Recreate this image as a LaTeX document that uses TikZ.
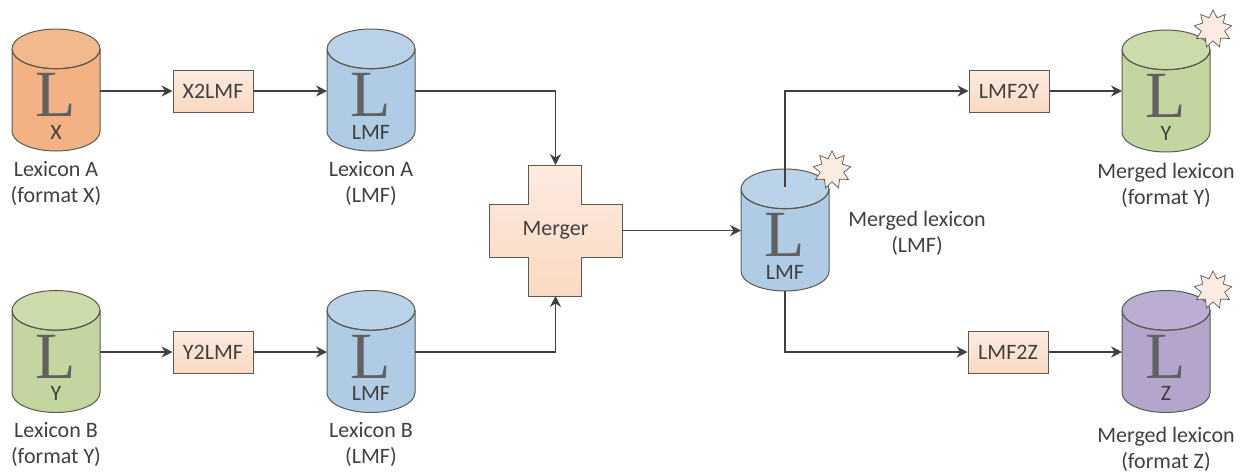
\documentclass[tikz,border=0pt]{standalone}
\usepackage{fontspec}
\setmainfont{Carlito}
\newfontfamily\bigserif{Liberation Serif}
\usetikzlibrary{shapes.geometric,arrows.meta}

\definecolor{lineGrey}{HTML}{404040}
\definecolor{textGrey}{HTML}{404040}
\definecolor{boxEdge}{HTML}{5A5A50}
\definecolor{boxTop}{HTML}{FCEBE0}
\definecolor{boxBot}{HTML}{FAD9C2}
\definecolor{orangeBody}{HTML}{F4B183}
\definecolor{orangeEnd}{HTML}{F2B98F}
\definecolor{blueBody}{HTML}{B0CCE4}
\definecolor{blueEnd}{HTML}{BAD3E8}
\definecolor{greenBody}{HTML}{C4D6A0}
\definecolor{greenEnd}{HTML}{CBDBAA}
\definecolor{purpleBody}{HTML}{B4A5CC}
\definecolor{purpleEnd}{HTML}{BCAED3}

\tikzset{
    lexdb/.style n args={2}{shape=cylinder,shape border rotate=90,shape aspect=1.1,draw=boxEdge,line width=1pt,
        minimum width=88pt,minimum height=122pt,inner sep=18pt,outer sep=0pt,anchor=shape center,
        cylinder uses custom fill,cylinder body fill=#1,cylinder end fill=#2},
    rim/.style={draw=boxEdge,line width=1pt},
    bigl/.style={font=\bigserif\fontsize{66}{66}\selectfont,text=black!62,inner sep=0pt},
    txt/.style={font=\fontsize{22}{26}\selectfont,text=textGrey,align=center,inner sep=0pt},
    conv/.style={draw=boxEdge,line width=1pt,top color=boxTop,bottom color=boxBot,
        minimum width=80pt,minimum height=42pt,inner sep=0pt,font=\fontsize{22}{24}\selectfont,text=textGrey},
    burst/.style={shape=star,star points=9,star point ratio=1.6,minimum size=38pt,inner sep=0pt,
        draw=boxEdge,line width=0.7pt,fill=boxTop},
    link/.style={draw=lineGrey,line width=1.1pt,-{Stealth[length=11pt,width=11pt]}}
}

% name, x, y, body, end, label
\newcommand{\lexdb}[6]{
    \node[lexdb={#4}{#5}] (#1) at (#2,#3) {};
    \draw[rim] (#1.after top) arc[start angle=0,end angle=-180,x radius=44pt,y radius=20pt];
    \node[bigl] (#1L) at (#2,#3+5) {L};
    \node[txt] (#1F) at (#2,#3+42) {#6};
}

\begin{document}
\begin{tikzpicture}[x=1pt,y=-1pt]
    \useasboundingbox (0,0) rectangle (1248,472);

    % sources and their LMF versions
    \lexdb{srcA}{56}{90}{orangeBody}{orangeEnd}{X}
    \lexdb{srcB}{56}{351.5}{greenBody}{greenEnd}{Y}
    \lexdb{lmfA}{371}{90}{blueBody}{blueEnd}{LMF}
    \lexdb{lmfB}{371}{351.5}{blueBody}{blueEnd}{LMF}
    \node[txt] (capSrcA) at (56,183) {Lexicon A\\(format X)};
    \node[txt] (capSrcB) at (56,444) {Lexicon B\\(format Y)};
    \node[txt] (capLmfA) at (371,183) {Lexicon A\\(LMF)};
    \node[txt] (capLmfB) at (371,444) {Lexicon B\\(LMF)};

    \node[conv] (x2lmf) at (213,91) {X2LMF};
    \node[conv] (y2lmf) at (213,352) {Y2LMF};

    % merger
    \draw[draw=boxEdge,line width=1pt,top color=boxTop,bottom color=boxBot]
        (528,165) -- (581,165) -- (581,204) -- (622,204) -- (622,257) -- (581,257)
        -- (581,296) -- (528,296) -- (528,257) -- (489,257) -- (489,204) -- (528,204) -- cycle;
    \node[minimum width=133pt,minimum height=131pt,inner sep=0pt,outer sep=0pt,
        font=\fontsize{22}{24}\selectfont,text=textGrey] (merger) at (555.5,230.5) {Merger};

    % results
    \lexdb{merged}{785}{230}{blueBody}{blueEnd}{LMF}
    \lexdb{outY}{1166}{91}{greenBody}{greenEnd}{Y}
    \lexdb{outZ}{1166}{351.5}{purpleBody}{purpleEnd}{Z}
    \node[burst] (starM) at (832,170) {};
    \node[burst] (starY) at (1213,29) {};
    \node[burst] (starZ) at (1213,290) {};
    \node[txt] (capM) at (917,233) {Merged lexicon\\(LMF)};
    \node[txt] (capY) at (1166,185) {Merged lexicon\\(format Y)};
    \node[txt] (capZ) at (1166,449) {Merged lexicon\\(format Z)};

    \node[conv] (lmf2y) at (1009,91) {LMF2Y};
    \node[conv] (lmf2z) at (1008,352) {LMF2Z};

    % connectors
    \draw[link] (srcA.east |- x2lmf) -- (x2lmf);
    \draw[link] (x2lmf) -- (lmfA.west |- x2lmf);
    \draw[link] (srcB.east |- y2lmf) -- (y2lmf);
    \draw[link] (y2lmf) -- (lmfB.west |- y2lmf);
    \draw[link] (lmfA.east |- x2lmf) -| (merger.north);
    \draw[link] (lmfB.east |- y2lmf) -| (merger.south);
    \draw[link] (merger) -- (merged.west |- merger);
    \coordinate (mergedTop) at (785,187);
    \draw[link] (mergedTop) |- (lmf2y);
    \draw[link] (merged.south) |- (lmf2z);
    \draw[link] (lmf2y) -- (outY.west |- lmf2y);
    \draw[link] (lmf2z) -- (outZ.west |- lmf2z);
\end{tikzpicture}
\end{document}
